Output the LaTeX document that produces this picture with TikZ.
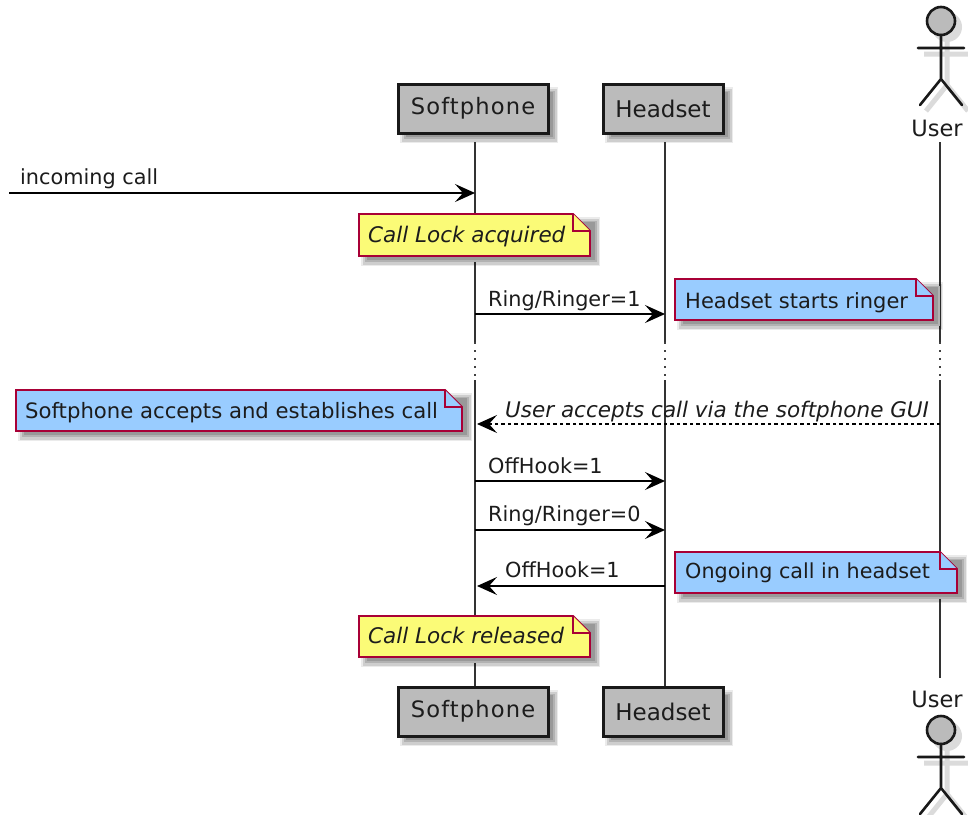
\documentclass[tikz,border=0pt]{standalone}
\usepackage{fontspec}
\setmainfont{DejaVu Sans}
\usetikzlibrary{arrows.meta,calc}
\definecolor{boxgray}{HTML}{BBBBBB}
\definecolor{noteline}{HTML}{A80036}
\definecolor{noteyellow}{HTML}{FBFB77}
\definecolor{noteblue}{HTML}{99CCFF}
\definecolor{inkc}{HTML}{1C1C1C}
\tikzset{
  life/.style={line width=1.5pt,draw=black!80},
  lifedots/.style={line width=1.4pt,draw=black!75,dash pattern=on 1.5pt off 6.5pt},
  msg/.style={line width=1.3pt,draw=black,-{Stealth[length=20pt,width=18pt,inset=8pt]}},
  retmsg/.style={msg,line width=1.1pt,dash pattern=on 3.5pt off 3pt},
  msglabel/.style={font=\fontsize{20.8}{24}\selectfont,text=inkc,inner sep=0pt,anchor=base west},
  actorline/.style={line width=2.6pt,draw=black!90,line cap=round},
  partbox/.style={draw=black!90,line width=3pt,fill=boxgray,inner sep=0pt,text=inkc},
  notetext/.style={font=\fontsize{21}{25}\selectfont,text=inkc,inner sep=0pt,anchor=base west},
  noteedge/.style={draw=noteline,line width=1.8pt,line join=miter},
  shad1/.style={fill=black,fill opacity=.08,draw=none},
  shad2/.style={fill=black,fill opacity=.12,draw=none},
  shad3/.style={fill=black!30,draw=none},
  shad4/.style={fill=black!40,draw=none},
}
% soft shadow of a rectangle, built of nested rectangles
\newcommand{\softshadow}[4]{%
  \fill[shad1] (#1+2,#2+3) rectangle (#3+10,#4+10);
  \fill[shad2] (#1+4,#2+5) rectangle (#3+8.5,#4+8.5);
  \fill[shad3] (#1+6,#2+7) rectangle (#3+7,#4+6);
  \fill[shad4] (#1+8,#2+8) rectangle (#3+5,#4+4);
}
% name, x1, y1, x2, y2, fill, text x, text baseline y, text
\newcommand{\notebox}[9]{%
  \softshadow{#2}{#3}{#4}{#5}
  \draw[noteedge,fill=#6] (#2,#3) -- (#4-17,#3) -- (#4,#3+17) -- (#4,#5) -- (#2,#5) -- cycle;
  \draw[noteedge,fill=#6] (#4-17,#3) -- (#4-17,#3+17) -- (#4,#3+17);
  \node[notetext] (#1) at (#7,#8) {#9};
}
% name, x centre, y of head centre
\newcommand{\stickman}[3]{%
  \begin{scope}[shift={(#2,#3)}]
    \begin{scope}[shift={(6,6)}]
      \draw[line width=5pt,draw=black!14] (0,14) -- (0,58) (-23,27) -- (23,27) (0,58) -- (-21,84) (0,58) -- (21,84);
      \fill[black!14] (0,0) ellipse (15 and 15);
    \end{scope}
    \draw[actorline,fill=boxgray] (0,0) ellipse (14 and 14);
    \draw[actorline] (0,14) -- (0,58) (-23,27) -- (23,27) (0,58) -- (-21,84) (0,58) -- (21,84);
    \coordinate (#1) at (0,0);
  \end{scope}
}
\newcommand{\softfont}{\fontsize{22.6}{27}\selectfont\addfontfeature{LetterSpace=5}}
\begin{document}
\begin{tikzpicture}[x=1pt,y=-1pt]
\useasboundingbox (0,0) rectangle (968,814);
\clip (0,0) rectangle (968,814);
\fill[white] (0,0) rectangle (968,814);

% lifeline anchor points
\coordinate (stop) at (475,142);
\coordinate (sa) at (475,342);
\coordinate (sb) at (475,380);
\coordinate (sbot) at (475,686);
\coordinate (htop) at (665,142);
\coordinate (ha) at (665,342);
\coordinate (hb) at (665,380);
\coordinate (hbot) at (665,686);
\coordinate (utop) at (940,142);
\coordinate (ua) at (940,342);
\coordinate (ub) at (940,380);
\coordinate (ubot) at (940,678);

\draw[life] (stop) -- (sa) (sb) -- (sbot);
\draw[life] (htop) -- (ha) (hb) -- (hbot);
\draw[life] (utop) -- (ua) (ub) -- (ubot);
\draw[lifedots] (sa) -- (sb);
\draw[lifedots] (ha) -- (hb);
\draw[lifedots] (ua) -- (ub);

% participants
\softshadow{398}{84}{548}{133}
\node[partbox,minimum width=150pt,minimum height=49pt,font=\softfont] (softtop) at (473,108.5) {Softphone};
\softshadow{603}{84}{723}{133}
\node[partbox,minimum width=120pt,minimum height=49pt,font=\fontsize{23}{27}\selectfont] (headtop) at (663,108.5) {Headset};
\softshadow{398}{687}{548}{736}
\node[partbox,minimum width=150pt,minimum height=49pt,font=\softfont] (softbot) at (473,711.5) {Softphone};
\softshadow{603}{687}{723}{736}
\node[partbox,minimum width=120pt,minimum height=49pt,font=\fontsize{23}{27}\selectfont] (headbot) at (663,711.5) {Headset};

% actors
\stickman{usertophead}{941}{21}
\node[font=\fontsize{22.5}{26}\selectfont,text=inkc,inner sep=0pt] (usertop) at (937,128) {User};
\stickman{userbothead}{941}{730}
\node[font=\fontsize{22.5}{26}\selectfont,text=inkc,inner sep=0pt] (userbot) at (937,699) {User};

% notes
\notebox{lockacq}{359}{214}{590}{256}{noteyellow}{368}{242}{\fontsize{21.5}{25}\selectfont\itshape Call Lock acquired}
\notebox{ringnote}{675}{279}{933}{320}{noteblue}{685}{308}{Headset starts ringer}
\notebox{acceptnote}{16}{390}{462}{431}{noteblue}{25}{418}{\fontsize{21.2}{25}\selectfont Softphone accepts and establishes call}
\notebox{ongoing}{675}{552}{957}{593}{noteblue}{685}{578}{\fontsize{20.7}{25}\selectfont Ongoing call in headset}
\notebox{lockrel}{359}{616}{590}{657}{noteyellow}{368}{643}{\fontsize{21.5}{25}\selectfont\itshape Call Lock released}

% messages
\coordinate (inA) at (9,193);
\coordinate (inB) at (475,193);
\draw[msg] (inA) -- (inB);
\node[msglabel] (l1) at (20,184) {incoming call};

\coordinate (r1a) at (475,314);
\coordinate (r1b) at (665,314);
\draw[msg] (r1a) -- (r1b);
\node[msglabel] (l2) at (488,306) {Ring/Ringer=1};

\coordinate (ga) at (940,424);
\coordinate (gb) at (477,424);
\draw[retmsg] (ga) -- (gb);
\node[msglabel,font=\fontsize{21.5}{25}\selectfont\itshape] (l3) at (505,417) {User accepts call via the softphone GUI};

\coordinate (o1a) at (475,481);
\coordinate (o1b) at (665,481);
\draw[msg] (o1a) -- (o1b);
\node[msglabel] (l4) at (488,473) {OffHook=1};

\coordinate (r0a) at (475,530);
\coordinate (r0b) at (665,530);
\draw[msg] (r0a) -- (r0b);
\node[msglabel] (l5) at (488,521) {Ring/Ringer=0};

\coordinate (o2a) at (665,586);
\coordinate (o2b) at (477,586);
\draw[msg] (o2a) -- (o2b);
\node[msglabel] (l6) at (505,577) {OffHook=1};
\end{tikzpicture}
\end{document}
